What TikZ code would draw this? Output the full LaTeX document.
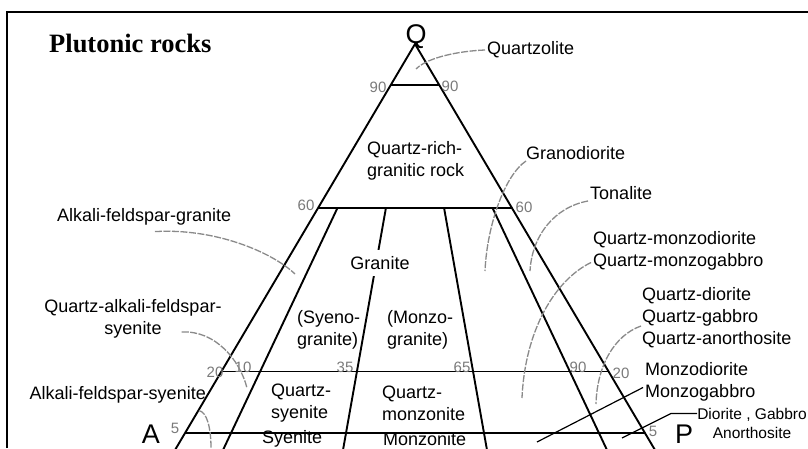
\documentclass[tikz,border=0pt]{standalone}
\usepackage{fontspec}
\setmainfont{Liberation Sans}
\newfontfamily\titlefont{Liberation Serif}
\usetikzlibrary{calc}
\definecolor{leadgray}{HTML}{8A8A8A}
\definecolor{numgray}{HTML}{7A7A7A}

\begin{document}
\begin{tikzpicture}[x=1pt, y=-1pt,
    edge/.style={line width=1.9pt},
    thin edge/.style={line width=1.4pt},
    lead/.style={draw=leadgray, line width=1.3pt, dash pattern=on 7pt off 1.5pt},
    solid lead/.style={draw=black, line width=1.2pt},
    rock/.style={font=\fontsize{18}{22}\selectfont, inner sep=0pt, align=left},
    num/.style={font=\fontsize{15}{15}\selectfont, text=numgray, inner sep=0pt},
    corner/.style={font=\fontsize{27}{27}\selectfont, inner sep=0pt},
  ]
    \useasboundingbox (0,0) rectangle (808,448);
    \fill[white] (0,0) rectangle (808,448);
    \clip (0,0) rectangle (808,448);

    % frame and title
    \draw[line width=1.5pt] (7,448) -- (7,12) -- (808,12);
    \node[anchor=base west, inner sep=0pt,
          font=\titlefont\bfseries\fontsize{26.5}{26.5}\selectfont] (title) at (49,52) {Plutonic rocks};

    % corners of the QAP triangle
    \coordinate (Q) at (415,44);
    \coordinate (A) at (173,453.4);
    \coordinate (P) at (657,453.4);
    \node[corner, anchor=base] (qlab) at (416,43) {Q};
    \node[corner, anchor=base] (alab) at (151,443) {A};
    \node[corner, anchor=base] (plab) at (684,443) {P};

    % base points of the radial lines
    \coordinate (b10) at ($(A)!0.10!(P)$);
    \coordinate (b35) at ($(A)!0.35!(P)$);
    \coordinate (b65) at ($(A)!0.65!(P)$);
    \coordinate (b90) at ($(A)!0.90!(P)$);

    % triangle, chords and radial lines
    \draw[edge] (A) -- (Q) -- (P);
    \draw[edge] ($(Q)!0.10!(A)$) -- ($(Q)!0.10!(P)$);
    \draw[edge] ($(Q)!0.40!(A)$) -- ($(Q)!0.40!(P)$);
    \draw[thin edge] ($(Q)!0.80!(A)$) -- ($(Q)!0.80!(P)$);
    \draw[thin edge] ($(Q)!0.95!(A)$) -- ($(Q)!0.95!(P)$);
    \foreach \b in {b10, b35, b65, b90}
      \draw[edge] ($(Q)!0.40!(\b)$) -- (\b);

    % tick values
    \node[num] (n90l) at (378,87) {90};
    \node[num] (n90r) at (450,86) {90};
    \node[num] (n60l) at (306,205) {60};
    \node[num] (n60r) at (524,207) {60};
    \node[num] (n20l) at (215,372) {20};
    \node[num] (n10)  at (243,367) {10};
    \node[num] (n35)  at (345,367) {35};
    \node[num] (n65)  at (462,367) {65};
    \node[num] (n90b) at (578,367) {90};
    \node[num] (n20r) at (621,373) {20};
    \node[num] (n5l)  at (175,428) {5};
    \node[num] (n5r)  at (653,431) {5};

    % fields inside the triangle
    \node[rock, anchor=west] (qrich) at (367,161) {Quartz-rich-\\granitic rock};
    \node[rock, fill=white, inner sep=6pt] (granite) at (380,263) {Granite};
    \node[rock, anchor=west] (syeno) at (297,330) {(Syeno-\\granite)};
    \node[rock, anchor=west] (monzo) at (387,330) {(Monzo-\\granite)};
    \node[rock, anchor=west] (qsy) at (271,403) {Quartz-\\syenite};
    \node[rock, anchor=west] (qmz) at (382,403) {Quartz-\\monzonite};
    \node[rock, anchor=west] (sy) at (262,439) {Syenite};
    \node[rock, anchor=west] (mz) at (383,439) {Monzonite};

    % names outside the triangle
    \node[rock, anchor=west] (qzl) at (487,50) {Quartzolite};
    \node[rock, anchor=west] (grd) at (526,153) {Granodiorite};
    \node[rock, anchor=west] (ton) at (590,193) {Tonalite};
    \node[rock, anchor=west] (qmd) at (593,250.5) {Quartz-monzodiorite\\Quartz-monzogabbro};
    \node[rock, anchor=west] (qdi) at (642,318) {Quartz-diorite\\Quartz-gabbro\\Quartz-anorthosite};
    \node[rock, anchor=west] (mzd) at (645,381.5) {Monzodiorite\\Monzogabbro};
    \node[rock, align=center, font=\fontsize{15.5}{19.5}\selectfont] (dga) at (752,423.5)
      {Diorite , Gabbro\\Anorthosite};
    \node[rock, anchor=west] (afg) at (57,217) {Alkali-feldspar-granite};
    \node[rock, align=center] (qafs) at (133,318.5) {Quartz-alkali-feldspar-\\syenite};
    \node[rock, anchor=east] (afs) at (206,395) {Alkali-feldspar-syenite};

    % free ends of the leaders
    \coordinate (qzl-end) at (416,69);
    \coordinate (grd-end) at (485,271);
    \coordinate (ton-end) at (530,271);
    \coordinate (qmd-end) at (522,398);
    \coordinate (qdi-end) at (596,404);
    \coordinate (afg-end) at (295,274);
    \coordinate (qafs-end) at (247,388);
    \coordinate (afs-end) at (211,448);
    \coordinate (mzd-end) at (537,442);
    \coordinate (dga-bend) at (671,413.5);
    \coordinate (dga-end) at (622,438);

    % leaders
    \draw[lead] ([xshift=-2pt]qzl.west) .. controls (460,51) and (428,57) .. (qzl-end);
    \draw[lead] ($(grd.west)+(0,8)$) .. controls (505,175) and (487,225) .. (grd-end);
    \draw[lead] ($(ton.west)+(-2,8)$) .. controls (555,207) and (532,235) .. (ton-end);
    \draw[lead] ($(qmd.west)+(-2,12)$) .. controls (555,280) and (525,330) .. (qmd-end);
    \draw[lead] ($(qdi.west)+(-1,8)$) .. controls (615,335) and (597,365) .. (qdi-end);
    \draw[lead] ($(afg.south west)+(98,6)$) .. controls (215,228) and (272,252) .. (afg-end);
    \draw[lead] ($(qafs.south east)+(-40,-6)$) .. controls (215,330) and (240,360) .. (qafs-end);
    \draw[lead] ($(afs.south east)+(-7,7)$) .. controls (207,412) and (211,428) .. (afs-end);
    \draw[solid lead] ($(mzd.west)+(-2,6)$) -- (mzd-end);
    \draw[solid lead] ($(dga.west)+(0,-10)$) -- (dga-bend) -- (dga-end);
  \end{tikzpicture}
\end{document}
